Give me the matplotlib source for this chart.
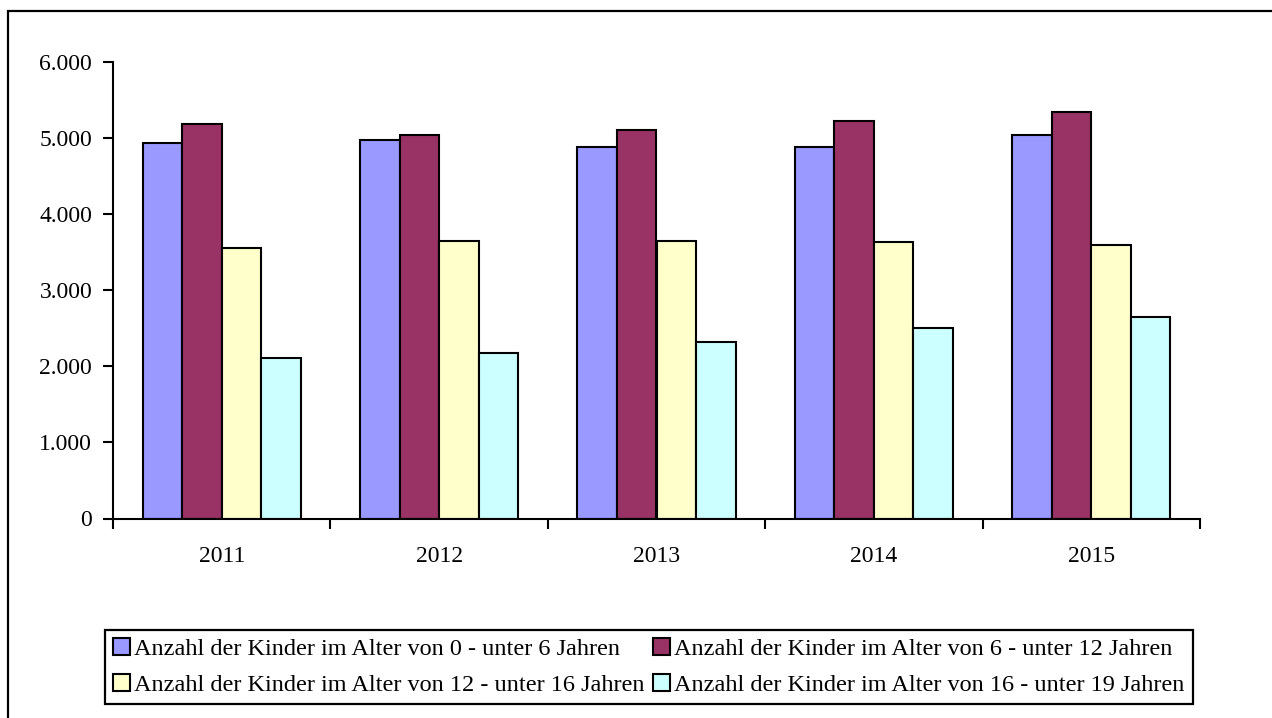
import matplotlib.pyplot as plt
from matplotlib.patches import Rectangle
from matplotlib.ticker import FuncFormatter, FixedLocator
import numpy as np

plt.rcParams['font.family'] = ['Liberation Serif', 'DejaVu Serif']

years = ['2011', '2012', '2013', '2014', '2015']
series_names = [
    'Anzahl der Kinder im Alter von 0 - unter 6 Jahren',
    'Anzahl der Kinder im Alter von 6 - unter 12 Jahren',
    'Anzahl der Kinder im Alter von 12 - unter 16 Jahren',
    'Anzahl der Kinder im Alter von 16 - unter 19 Jahren',
]
age_0_6 = [4940, 4980, 4880, 4880, 5040]
age_6_12 = [5190, 5040, 5100, 5225, 5340]
age_12_16 = [3550, 3650, 3650, 3630, 3600]
age_16_19 = [2110, 2180, 2320, 2510, 2650]
colors = ['#9999FF', '#993366', '#FFFFCC', '#CCFFFF']

fig = plt.figure(figsize=(12.72, 7.18), dpi=100)
ax = fig.add_axes([113 / 1272, 1 - 518.5 / 718, (1200 - 113) / 1272, (518.5 - 62) / 718])

# outer frame of the chart area
fig.patches.append(Rectangle((8 / 1272, -0.05), 1.2, 1 - 11 / 718 + 0.05,
                             transform=fig.transFigure, fill=False,
                             edgecolor='black', linewidth=1.6))

gap = 1.5
w = 1 / (4 + gap)
x = np.arange(len(years)) + 0.5
bars = []
for i, vals in enumerate([age_0_6, age_6_12, age_12_16, age_16_19]):
    b = ax.bar(x + (i - 1.5) * w, vals, width=w, color=colors[i],
               edgecolor='black', linewidth=1.5, label=series_names[i])
    bars.append(b)

ax.set_xlim(0, len(years))
ax.set_ylim(0, 6000)
ax.set_yticks(np.arange(0, 6001, 1000))
ax.yaxis.set_major_formatter(FuncFormatter(lambda v, p: f'{int(v):,}'.replace(',', '.')))

ax.xaxis.set_major_locator(FixedLocator(np.arange(len(years) + 1)))
ax.xaxis.set_minor_locator(FixedLocator(x))
ax.set_xticklabels([], minor=False)
ax.set_xticklabels(years, minor=True)
ax.tick_params(axis='x', which='minor', length=0, pad=20, labelsize=17)
ax.tick_params(axis='x', which='major', length=7, width=1.5, direction='out')
ax.tick_params(axis='y', length=7, width=1.5, direction='out', pad=8, labelsize=17)

for s in ['top', 'right']:
    ax.spines[s].set_visible(False)
for s in ['left', 'bottom']:
    ax.spines[s].set_linewidth(1.5)

# legend filled row by row: 0-6 | 6-12 on top, 12-16 | 16-19 below
order = [0, 2, 1, 3]
leg = fig.legend([bars[i] for i in order], [series_names[i] for i in order],
                 loc='center', bbox_to_anchor=(0.510, 0.071), ncol=2,
                 fontsize=17.5, frameon=True, fancybox=False, edgecolor='black',
                 framealpha=1, handlelength=0.7, handleheight=0.7, handletextpad=0.15,
                 columnspacing=0.35, borderpad=0.35, labelspacing=0.55,
                 borderaxespad=0)
leg.get_frame().set_linewidth(1.6)

fig.savefig('out.png', dpi=100)
